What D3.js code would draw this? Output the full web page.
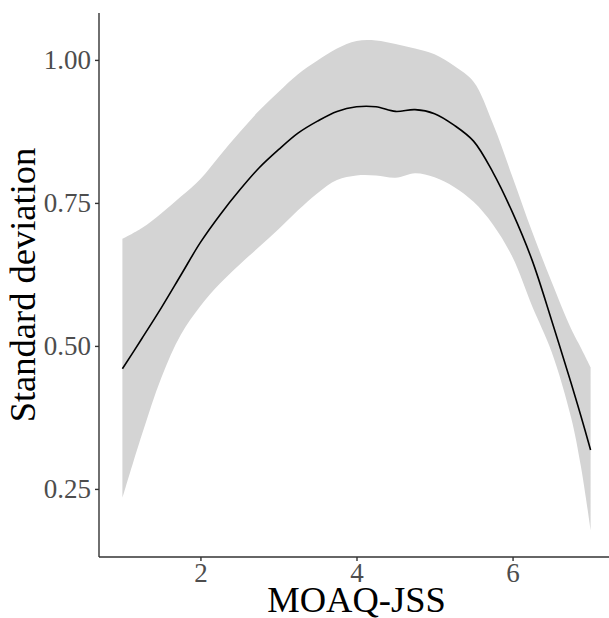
<!DOCTYPE html>
<html>
<head>
	<meta charset="utf-8">
	<title>Standard deviation by MOAQ-JSS</title>
	<style>
		html, body { margin:0; padding:0; background:#fff; overflow:hidden; }
		body { font-family: "Liberation Serif", "Times New Roman", Times, serif; }
		svg { display:block; }
		.ribbon { fill: #d4d4d4; stroke: none; }
		.fit { fill: none; stroke: #000; stroke-width: 1.6px; stroke-linejoin: round; }
		.axis path, .axis line { stroke: #333; stroke-width: 1.4px; }
		.axis text { fill: #4d4d4d; font-family: "Liberation Serif", "Times New Roman", serif; font-size: 27px; }
		.atitle { fill: #000; font-size: 36.5px; }
	</style>
	<script src="https://cdn.jsdelivr.net/npm/d3@7"></script>
</head>
<body>
<svg id="chart"></svg>
<script>

	//values
	var xs    = [1, 1.25, 1.5, 1.75, 2, 2.25, 2.5, 2.75, 3, 3.25, 3.5, 3.75, 4, 4.25, 4.5, 4.75, 5, 5.25, 5.5, 5.75, 6, 6.25, 6.5, 6.75, 6.875, 7];
	var sdFit = [0.460, 0.513, 0.567, 0.624, 0.681, 0.729, 0.772, 0.811, 0.843, 0.872, 0.893, 0.910, 0.918, 0.918, 0.910, 0.913, 0.906, 0.886, 0.858, 0.803, 0.733, 0.650, 0.545, 0.435, 0.378, 0.318];
	var upper = [0.687, 0.706, 0.732, 0.761, 0.792, 0.833, 0.873, 0.911, 0.944, 0.975, 0.999, 1.020, 1.033, 1.034, 1.028, 1.020, 1.010, 0.990, 0.962, 0.888, 0.795, 0.700, 0.612, 0.530, 0.497, 0.463];
	var lower = [0.234, 0.345, 0.445, 0.520, 0.570, 0.609, 0.642, 0.673, 0.704, 0.737, 0.767, 0.790, 0.798, 0.798, 0.794, 0.802, 0.795, 0.778, 0.752, 0.712, 0.655, 0.570, 0.490, 0.375, 0.290, 0.178];
	var xTicks = [2, 4, 6];
	var yTicks = [0.25, 0.50, 0.75, 1.00];
	var xLabel = "MOAQ-JSS",
		yLabel = "Standard deviation";

	var W = 609, H = 618;
	var svg = d3.select("#chart").attr("width", W).attr("height", H);

	//panel box (x axis runs a bit past the right edge, as in the picture)
	var pLeft = 99, pRight = 614, pTop = 13, pBottom = 557;
	var x = d3.scaleLinear().domain([0.7, 7.3]).range([pLeft, pRight]);
	var y = d3.scaleLinear().domain([0.131, 1.082]).range([pBottom, pTop]);

	var rows = xs.map(function(v, i){ return {x: v, fit: sdFit[i], lo: lower[i], hi: upper[i]}; });
	var curve = d3.curveCatmullRom.alpha(0.5);

	//confidence band
	svg.append("path").datum(rows).attr("class", "ribbon")
		.attr("d", d3.area().curve(curve)
			.x(function(d){ return x(d.x); })
			.y0(function(d){ return y(d.lo); })
			.y1(function(d){ return y(d.hi); }));

	//smoothed line
	svg.append("path").datum(rows).attr("class", "fit")
		.attr("d", d3.line().curve(curve)
			.x(function(d){ return x(d.x); })
			.y(function(d){ return y(d.fit); }));

	//axes
	var gx = svg.append("g").attr("class", "axis").attr("transform", "translate(0," + pBottom + ")")
		.call(d3.axisBottom(x).tickValues(xTicks).tickSize(4).tickPadding(2).tickFormat(d3.format("d")));
	gx.select(".domain").attr("d", "M" + pLeft + ",0H" + pRight);

	var gy = svg.append("g").attr("class", "axis").attr("transform", "translate(" + pLeft + ",0)")
		.call(d3.axisLeft(y).tickValues(yTicks).tickSize(4).tickPadding(4).tickFormat(d3.format(".2f")));
	gy.select(".domain").attr("d", "M0," + pTop + "V" + pBottom);

	//axis titles
	svg.append("text").attr("class", "atitle")
		.attr("x", (pLeft + pRight) / 2).attr("y", 612)
		.attr("text-anchor", "middle").text(xLabel);
	svg.append("text").attr("class", "atitle")
		.attr("transform", "translate(35," + (pTop + pBottom) / 2 + ") rotate(-90)")
		.attr("text-anchor", "middle").text(yLabel);

</script>
</body>
</html>
